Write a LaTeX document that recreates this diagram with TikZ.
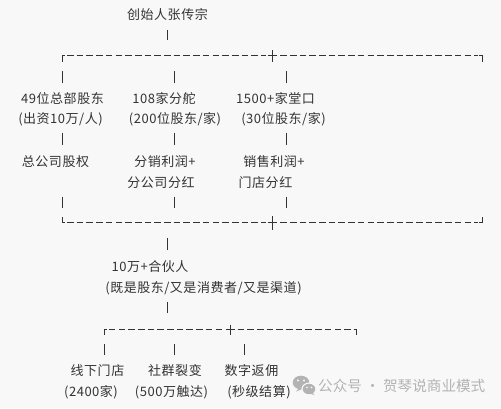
\documentclass[tikz,border=0pt]{standalone}
\usepackage{fontspec}
\newfontfamily\cjk[LetterSpace=4]{Noto Sans CJK SC}
\newfontfamily\cjkwm{Noto Sans CJK SC}
\definecolor{bgc}{HTML}{F8F8F8}
\definecolor{txtc}{HTML}{333333}
\definecolor{linec}{HTML}{333333}
\definecolor{wmc}{HTML}{B3B3B3}
\begin{document}
\begin{tikzpicture}[x=1pt,y=-1pt,
  txt/.style={font=\cjk\fontsize{13}{15}\selectfont, text=txtc, inner sep=0pt, anchor=center},
  ln/.style={draw=linec, line width=1.25pt},
  dsh/.style={ln, dash pattern=on 6.6pt off 3.1pt},
  wm/.style={font=\cjkwm\fontsize{14.6}{17}\selectfont, text=wmc, inner sep=0pt, anchor=west}]
\fill[bgc] (0,0) rectangle (501,408);
\useasboundingbox (0,0) rectangle (501,408);

% ---- text nodes ----
\node[txt] (founder) at (167.5,14.5) {创始人张传宗};
\node[txt] (a1) at (62.5,98.5) {49位总部股东};
\node[txt] (b1) at (164,98.5) {108家分舵};
\node[txt] (c1) at (275.5,98.5) {1500+家堂口};
\node[txt] (a2) at (60.5,119) {(出资10万/人)};
\node[txt] (b2) at (175,119) {(200位股东/家)};
\node[txt] (c2) at (283.5,119) {(30位股东/家)};
\node[txt] (a3) at (55.5,162) {总公司股权};
\node[txt] (b3) at (165,162) {分销利润+};
\node[txt] (c3) at (274,162) {销售利润+};
\node[txt] (b4) at (161,182.5) {分公司分红};
\node[txt] (c4) at (265.5,182.5) {门店分红};
\node[txt] (partner) at (150,267) {10万+合伙人};
\node[txt] (partner2) at (203.5,288) {(既是股东/又是消费者/又是渠道)};
\node[txt] (d1) at (97.5,371) {线下门店};
\node[txt] (e1) at (175,371) {社群裂变};
\node[txt] (f1) at (251.5,371) {数字返佣};
\node[txt] (d2) at (91,392) {(2400家)};
\node[txt] (e2) at (171.5,392) {(500万触达)};
\node[txt] (f2) at (259,392) {(秒级结算)};

% ---- junction coordinates ----
\coordinate (s1a) at (167.5,30);   \coordinate (s1b) at (167.5,40);
% line 1
\coordinate (L1l) at (62.5,55.5);    \coordinate (L1c) at (272.5,55.5);  \coordinate (L1r) at (482.5,55.5);
% line 2
\coordinate (L2l) at (62.5,222.5);   \coordinate (L2c) at (272.5,222.5); \coordinate (L2r) at (482.5,222.5);
% line 3
\coordinate (L3l) at (104.5,329.5); \coordinate (L3c) at (230.5,329.5);  \coordinate (L3r) at (356.5,329.5);

% ---- stem from founder ----
\draw[ln] (s1a) -- (s1b);

% ---- line 1 (yshift is in canvas units: negative = down) ----
\draw[ln] ([yshift=-6]L1l) -- (L1l) -- ([xshift=2.5]L1l);
\draw[dsh] ([xshift=4.5]L1l) -- ([xshift=-7]L1c);
\draw[ln] ([yshift=5.5]L1c) -- ([yshift=-6]L1c);
\draw[ln] ([xshift=-4.8]L1c) -- ([xshift=4.7]L1c);
\draw[dsh] ([xshift=7.7]L1c) -- ([xshift=-4.3]L1r);
\draw[ln] ([xshift=-3.3]L1r) -- (L1r) -- ([yshift=-6]L1r);

% ---- column ticks ----
\foreach \x in {62.5,174.5,286.5}{
  \draw[ln] (\x,71) -- (\x,83);
  \draw[ln] (\x,133) -- (\x,145);
  \draw[ln] (\x,197) -- (\x,208);
}

% ---- line 2 ----
\draw[ln] ([yshift=5.5]L2l) -- (L2l) -- ([xshift=2.5]L2l);
\draw[dsh] ([xshift=4.5]L2l) -- ([xshift=-7]L2c);
\draw[ln] ([yshift=6.5]L2c) -- ([yshift=-7]L2c);
\draw[ln] ([xshift=-4.8]L2c) -- ([xshift=4.7]L2c);
\draw[dsh] ([xshift=7.7]L2c) -- ([xshift=-4.3]L2r);
\draw[ln] ([xshift=-3.3]L2r) -- (L2r) -- ([yshift=5.5]L2r);

% ---- stems to partner ----
\draw[ln] (167.5,238) -- (167.5,250);
\draw[ln] (167.5,302) -- (167.5,313);

% ---- line 3 ----
\draw[ln] ([yshift=-5]L3l) -- (L3l) -- ([xshift=2.3]L3l);
\draw[dsh] ([xshift=4.3]L3l) -- ([xshift=-7]L3c);
\draw[ln] ([yshift=5]L3c) -- ([yshift=-5]L3c);
\draw[ln] ([xshift=-4.5]L3c) -- ([xshift=4.5]L3c);
\draw[dsh] ([xshift=7]L3c) -- ([xshift=-4]L3r);
\draw[ln] ([xshift=-3]L3r) -- (L3r) -- ([yshift=-5]L3r);

\foreach \x in {104.5,174.5,244.5}{
  \draw[ln] (\x,344) -- (\x,355);
}

% ---- watermark ----
\begin{scope}
  \fill[wmc] (301,382.5) ellipse (8.3 and 6.8);
  \fill[wmc] (300,387) -- (296,391.5) -- (303.5,388.5) -- cycle;
  \fill[bgc] (309,389) ellipse (7.6 and 6.4);
  \fill[wmc] (309,389) ellipse (6.3 and 5.2);
  \fill[wmc] (312,392) -- (314.5,395) -- (310,393.5) -- cycle;
  \fill[bgc] (298,380.5) circle (1.1);
  \fill[bgc] (304,380.5) circle (1.1);
  \fill[bgc] (307,387.5) circle (0.9);
  \fill[bgc] (311.5,387.5) circle (0.9);
\end{scope}
\node[wm] (wmark) at (318,386) {公众号 · 贺琴说商业模式};
\end{tikzpicture}
\end{document}
